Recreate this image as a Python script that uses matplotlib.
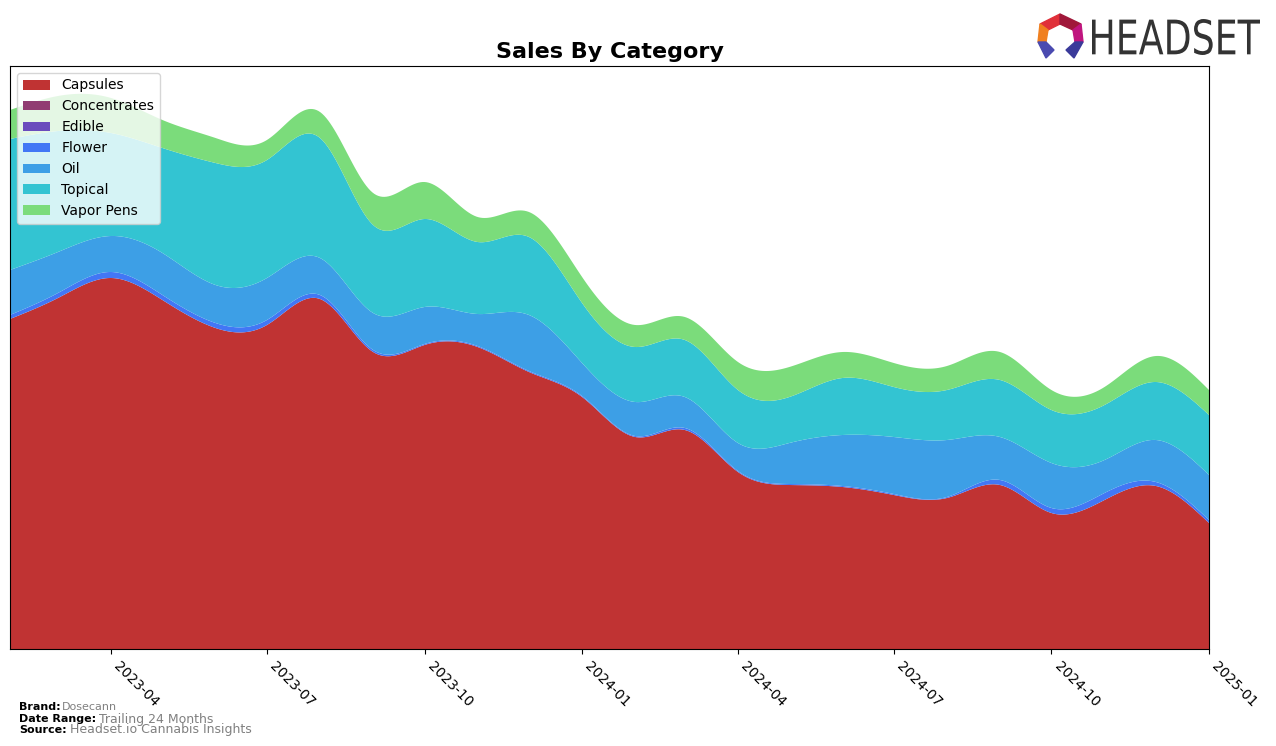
import matplotlib
matplotlib.use("Agg")
import matplotlib.pyplot as plt
import matplotlib.dates as mdates
from matplotlib.patches import Polygon, PathPatch
from matplotlib.textpath import TextPath
from matplotlib.font_manager import FontProperties
from matplotlib.transforms import Affine2D
import numpy as np
import pandas as pd

months = pd.date_range("2023-02-01", "2025-01-01", freq="MS")

capsules = [330, 351, 371, 349, 321, 324, 350, 297, 304, 302, 277, 252,
            212, 219, 177, 164, 162, 154, 151, 164, 136, 149, 163, 126]
concentrates = [0] * 24
edible = [0] * 24
flower = [4, 5, 6, 5, 5, 5, 4, 2, 1, 1, 1, 1, 1, 2, 1, 1, 1, 1, 1, 5, 5, 7, 4, 3]
oil = [45, 41, 36, 42, 38, 42, 37, 37, 37, 32, 56, 33,
       34, 31, 28, 41, 51, 57, 57, 43, 45, 33, 42, 45]
topical = [131, 121, 103, 105, 122, 118, 120, 88, 88, 72, 78, 60,
           55, 57, 53, 46, 57, 50, 50, 57, 53, 55, 58, 60]
vapor_pens = [29, 35, 35, 28, 25, 20, 26, 32, 37, 25, 25, 26,
              22, 23, 28, 30, 26, 24, 24, 28, 20, 18, 26, 25]

labels = ["Capsules", "Concentrates", "Edible", "Flower", "Oil", "Topical", "Vapor Pens"]
colors = ["#c03333", "#913c72", "#6a4cbd", "#4277f5", "#3d9fe6", "#33c4d2", "#7bdc7b"]


def spline(x, y, xs):
    # natural cubic spline, numpy only
    x = np.asarray(x, float)
    y = np.asarray(y, float)
    n = len(x)
    h = np.diff(x)
    A = np.zeros((n, n))
    b = np.zeros(n)
    A[0, 0] = A[-1, -1] = 1
    for i in range(1, n - 1):
        A[i, i - 1] = h[i - 1]
        A[i, i] = 2 * (h[i - 1] + h[i])
        A[i, i + 1] = h[i]
        b[i] = 6 * ((y[i + 1] - y[i]) / h[i] - (y[i] - y[i - 1]) / h[i - 1])
    M = np.linalg.solve(A, b)
    idx = np.clip(np.searchsorted(x, xs) - 1, 0, n - 2)
    x0, x1 = x[idx], x[idx + 1]
    hh = x1 - x0
    t0, t1 = x1 - xs, xs - x0
    return (M[idx] * t0 ** 3 / (6 * hh) + M[idx + 1] * t1 ** 3 / (6 * hh)
            + (y[idx] / hh - M[idx] * hh / 6) * t0
            + (y[idx + 1] / hh - M[idx + 1] * hh / 6) * t1)


xnum = mdates.date2num(months)
xs = np.linspace(xnum[0], xnum[-1], 600)
series = [capsules, concentrates, edible, flower, oil, topical, vapor_pens]
smooth = [np.clip(spline(xnum, s, xs), 0, None) for s in series]

fig = plt.figure(figsize=(12.76, 7.46), dpi=100)
ax = fig.add_axes([10 / 1276, 1 - 649 / 746, 1199 / 1276, 583 / 746])
ax.stackplot(xs, smooth, labels=labels, colors=colors)
ax.set_xlim(xnum[0], xnum[-1])
ax.set_ylim(0, 583)
ax.set_yticks([])
ax.xaxis.set_major_locator(mdates.MonthLocator(bymonth=[1, 4, 7, 10]))
ax.xaxis.set_major_formatter(mdates.DateFormatter("%Y-%m"))
plt.setp(ax.get_xticklabels(), rotation=-45, ha="left", fontsize=10)
ax.set_title("Sales By Category", fontsize=16, fontweight="bold", pad=6)
ax.legend(loc="upper left", fontsize=10, framealpha=0.8)

# footer
fs = 8
fig.text(19 / 1276, 1 - 707 / 746, "Brand:", fontsize=fs, fontweight="bold", va="center")
fig.text(62 / 1276, 1 - 707 / 746, "Dosecann", fontsize=fs, color="gray", va="center")
fig.text(19 / 1276, 1 - 719 / 746, "Date Range:", fontsize=fs, fontweight="bold", va="center")
fig.text(99 / 1276, 1 - 719 / 746, "Trailing 24 Months", fontsize=9, color="gray", va="center")
fig.text(19 / 1276, 1 - 730 / 746, "Source:", fontsize=fs, fontweight="bold", va="center")
fig.text(70 / 1276, 1 - 730 / 746, "Headset.io Cannabis Insights", fontsize=9, color="gray", va="center")

# logo
W, H = 1276.0, 746.0


def px(pts):
    return [(x / W, 1 - y / H) for x, y in pts]


logo_parts = [
    ([(1040, 24), (1060, 14), (1060, 24), (1048, 30)], "#e0303a"),
    ([(1060, 14), (1081, 24), (1073, 30), (1060, 24)], "#a0183a"),
    ([(1081, 24), (1083, 42), (1075, 42), (1073, 30)], "#c0157f"),
    ([(1040, 24), (1048, 30), (1046, 42), (1038, 42)], "#f08020"),
    ([(1038, 42), (1046, 42), (1054, 50), (1046, 58)], "#4a4ab0"),
    ([(1083, 42), (1075, 42), (1066, 50), (1074, 58)], "#3a3a9a"),
]
for pts, c in logo_parts:
    fig.add_artist(Polygon(px(pts), closed=True, color=c, transform=fig.transFigure))

tp = TextPath((0, 0), "HEADSET", size=10, prop=FontProperties(family="DejaVu Sans"))
ext = tp.get_extents()
x0, x1, y0, y1 = 1092, 1260, 19, 55
sx = (x1 - x0) / ext.width / W
sy = (y1 - y0) / ext.height / H
tr = Affine2D().translate(-ext.x0, -ext.y0).scale(sx, sy).translate(x0 / W, 1 - y1 / H)
fig.add_artist(PathPatch(tp, color="#333333", lw=0, transform=tr + fig.transFigure))

fig.savefig("out.png", dpi=100)
